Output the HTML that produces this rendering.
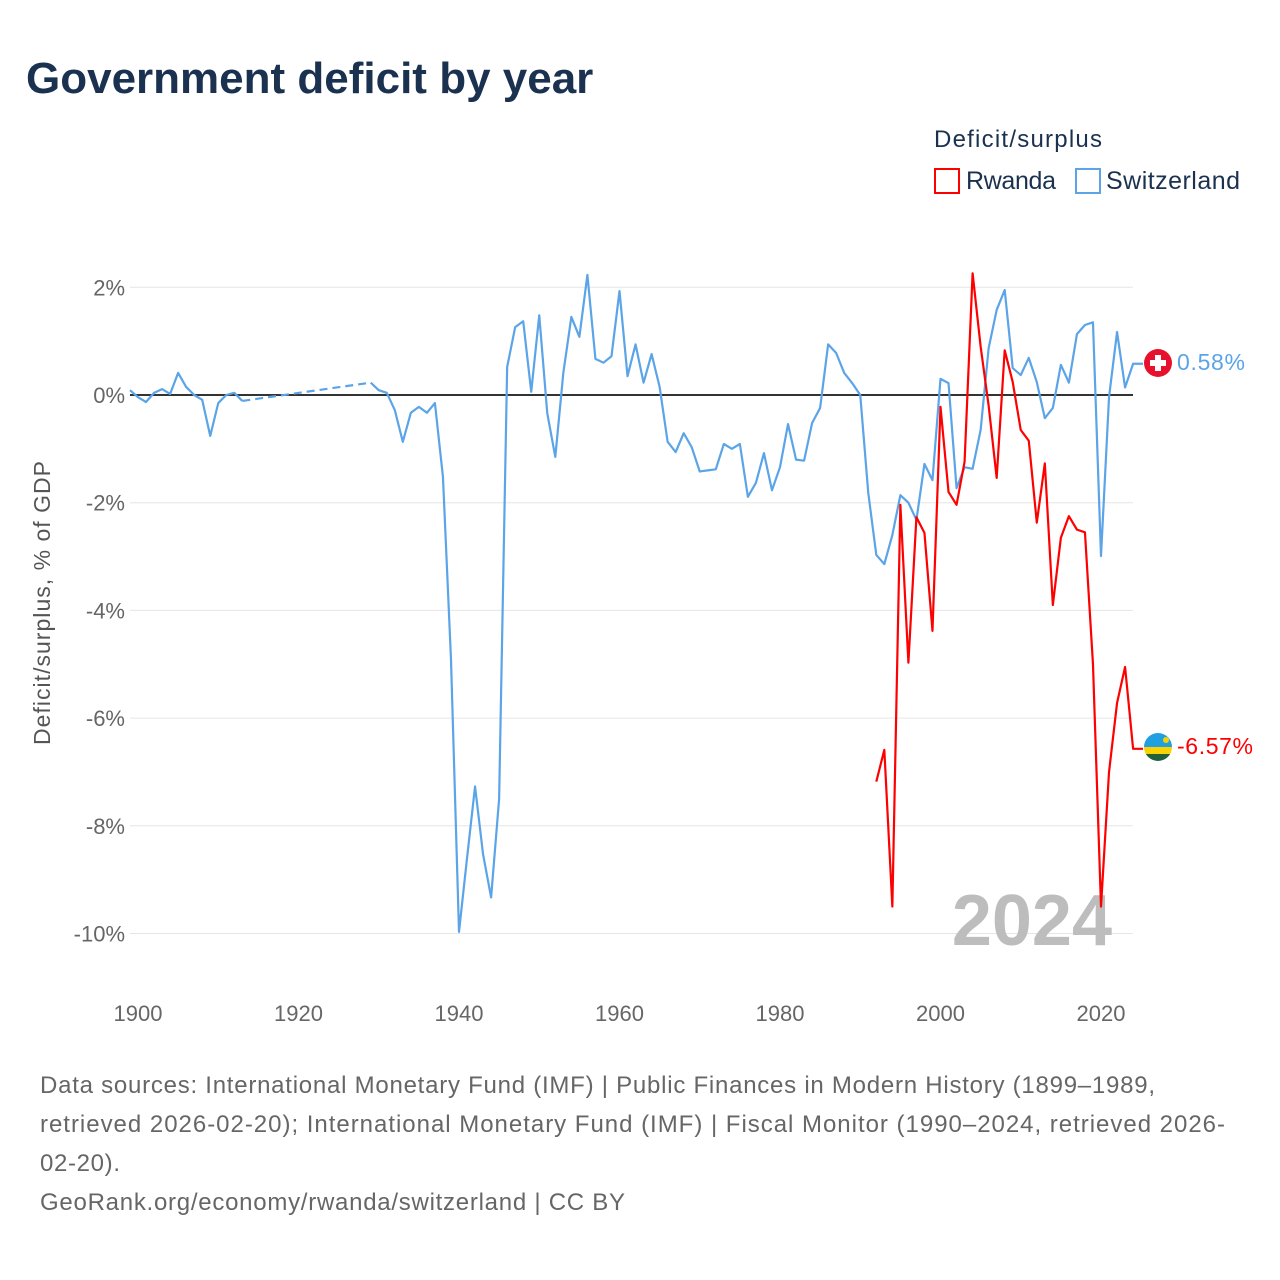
<!DOCTYPE html>
<html><head><meta charset="utf-8"><style>
body{margin:0;background:#fff;font-family:"Liberation Sans",sans-serif}
</style></head><body>
<svg width="1280" height="1280" xmlns="http://www.w3.org/2000/svg" style="display:block">
<text x="26" y="93" font-size="44" font-weight="bold" fill="#1a3150">Government deficit by year</text>
<text x="934" y="147" font-size="24" fill="#1a3150" textLength="168">Deficit/surplus</text>
<g><rect x="935" y="169" width="24" height="24" fill="none" stroke="#ff0000" stroke-width="2"/><text x="966" y="189" font-size="25" fill="#1a3150" textLength="90">Rwanda</text></g>
<g><rect x="1076" y="169" width="24" height="24" fill="none" stroke="#5ba4e8" stroke-width="2"/><text x="1106" y="189" font-size="25" fill="#1a3150" textLength="134">Switzerland</text></g>
<g id="grid"></g><g id="yt"></g><g id="xt"></g>
<text x="1112" y="945" text-anchor="end" font-size="72" font-weight="bold" fill="#bdbdbd">2024</text>
<g id="series"></g>
<text transform="translate(50,603) rotate(-90)" text-anchor="middle" font-size="23" fill="#555" textLength="284">Deficit/surplus, % of GDP</text>
<g><circle cx="1158" cy="363" r="14" fill="#e8112d"/><rect x="1155" y="355" width="6" height="16" fill="#fff"/><rect x="1150" y="360" width="16" height="6" fill="#fff"/></g>
<g><clipPath id="rc"><circle cx="1158" cy="747" r="14"/></clipPath><g clip-path="url(#rc)"><rect x="1144" y="733" width="28" height="14" fill="#20a0e0"/><rect x="1144" y="747" width="28" height="7" fill="#fad201"/><rect x="1144" y="754" width="28" height="7" fill="#20603d"/><circle cx="1166" cy="740" r="3" fill="#fad201"/></g></g>
<text x="1177" y="370" font-size="23" fill="#5ba4e8" textLength="68">0.58%</text>
<text x="1177" y="754" font-size="23" fill="#ff0000" textLength="76">-6.57%</text>
<g font-size="24" fill="#666">
<text x="40" y="1093" textLength="1115">Data sources: International Monetary Fund (IMF) | Public Finances in Modern History (1899–1989,</text>
<text x="40" y="1132" textLength="1185">retrieved 2026-02-20); International Monetary Fund (IMF) | Fiscal Monitor (1990–2024, retrieved 2026-</text>
<text x="40" y="1171" textLength="80">02-20).</text>
<text x="40" y="1210" textLength="585">GeoRank.org/economy/rwanda/switzerland | CC BY</text>
</g>
</svg>
<script>
const yTicks=[2,0,-2,-4,-6,-8,-10];
const xTicks=[1900,1920,1940,1960,1980,2000,2020];
const swissYears=[1899,1900,1901,1902,1903,1904,1905,1906,1907,1908,1909,1910,1911,1912,1913,1929,1930,1931,1932,1933,1934,1935,1936,1937,1938,1939,1940,1941,1942,1943,1944,1945,1946,1947,1948,1949,1950,1951,1952,1953,1954,1955,1956,1957,1958,1959,1960,1961,1962,1963,1964,1965,1966,1967,1968,1969,1970,1971,1972,1973,1974,1975,1976,1977,1978,1979,1980,1981,1982,1983,1984,1985,1986,1987,1988,1989,1990,1991,1992,1993,1994,1995,1996,1997,1998,1999,2000,2001,2002,2003,2004,2005,2006,2007,2008,2009,2010,2011,2012,2013,2014,2015,2016,2017,2018,2019,2020,2021,2022,2023,2024];
const swissValues=[0.09,-0.04,-0.13,0.04,0.11,0.02,0.41,0.15,0,-0.09,-0.76,-0.15,0,0.04,-0.11,0.23,0.09,0.04,-0.28,-0.87,-0.33,-0.22,-0.33,-0.15,-1.52,-4.9,-9.97,-8.6,-7.27,-8.53,-9.33,-7.5,0.52,1.26,1.37,0.06,1.48,-0.34,-1.15,0.41,1.45,1.08,2.23,0.67,0.6,0.72,1.93,0.35,0.94,0.23,0.76,0.15,-0.87,-1.06,-0.71,-0.97,-1.42,-1.4,-1.38,-0.91,-1.0,-0.91,-1.89,-1.63,-1.08,-1.77,-1.34,-0.54,-1.2,-1.22,-0.52,-0.24,0.94,0.78,0.41,0.22,0,-1.82,-2.97,-3.14,-2.6,-1.86,-2.0,-2.32,-1.28,-1.58,0.3,0.22,-1.73,-1.34,-1.37,-0.65,0.87,1.58,1.95,0.5,0.37,0.69,0.24,-0.43,-0.24,0.56,0.23,1.13,1.3,1.35,-2.99,-0.04,1.17,0.14,0.58];
const rwandaYears=[1992,1993,1994,1995,1996,1997,1998,1999,2000,2001,2002,2003,2004,2005,2006,2007,2008,2009,2010,2011,2012,2013,2014,2015,2016,2017,2018,2019,2020,2021,2022,2023,2024];
const rwandaValues=[-7.18,-6.59,-9.5,-2.04,-4.97,-2.27,-2.56,-4.38,-0.22,-1.8,-2.04,-1.24,2.26,0.9,-0.2,-1.54,0.83,0.24,-0.65,-0.85,-2.37,-1.27,-3.9,-2.65,-2.25,-2.5,-2.55,-5.0,-9.5,-7.0,-5.72,-5.05,-6.57];
const ns="http://www.w3.org/2000/svg";
const X=y=>138+(y-1900)*8.025, Y=v=>395-53.85*v;
function mk(t,a,p){const e=document.createElementNS(ns,t);for(const k in a)e.setAttribute(k,a[k]);document.getElementById(p).appendChild(e);return e;}
yTicks.forEach(t=>{
 const l=mk('line',{x1:130,x2:1133,y1:Y(t),y2:Y(t),stroke:t===0?'#333':'#e6e6e6','stroke-width':t===0?2:1},'grid');
 
 
 const tx=mk('text',{x:125,y:Y(t)+8,'text-anchor':'end','font-size':22,fill:'#666'},'yt');tx.textContent=t+'%';
 
 
});
xTicks.forEach(t=>{
 const tx=mk('text',{x:X(t),y:1021,'text-anchor':'middle','font-size':22,fill:'#666'},'xt');tx.textContent=t;
 
 
});
function draw(years,vals,color,name){
 let seg=[];const segs=[];
 for(let i=0;i<years.length;i++){
  if(i>0&&years[i]-years[i-1]>1){segs.push(seg);
   const d=mk('path',{d:`M${X(years[i-1])},${Y(vals[i-1])}L${X(years[i])},${Y(vals[i])}`,fill:'none',stroke:color,'stroke-width':2.2,'stroke-dasharray':'8,5'},'series');
   
   
   seg=[];}
  seg.push([X(years[i]),Y(vals[i])]);
 }
 segs.push(seg);
 const last=segs[segs.length-1];last.push([1143,last[last.length-1][1]]);
 segs.forEach(s=>{
  const p=mk('path',{d:'M'+s.map(q=>q.join(',')).join('L'),fill:'none',stroke:color,'stroke-width':2.2,'stroke-linejoin':'round'},'series');
  
  
 });
}
draw(swissYears,swissValues,'#5ba4e8','switzerland');
draw(rwandaYears,rwandaValues,'#ff0000','rwanda');
</script>
</body></html>
